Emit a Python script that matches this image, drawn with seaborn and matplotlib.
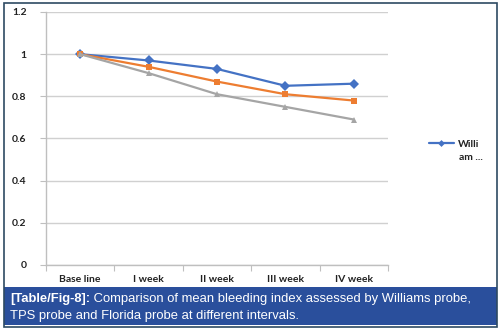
import matplotlib
matplotlib.use("Agg")
import matplotlib.pyplot as plt
from matplotlib.patches import Rectangle
from matplotlib.lines import Line2D
import seaborn as sns
import pandas as pd

categories = ["Base line", "I week", "II week", "III week", "IV week"]
williams = [1.0, 0.97, 0.93, 0.85, 0.86]
tps = [1.0, 0.94, 0.87, 0.81, 0.78]
florida = [1.0, 0.91, 0.81, 0.75, 0.69]
series_names = ["Williams", "TPS", "Florida"]
yticks = [0, 0.2, 0.4, 0.6, 0.8, 1.0, 1.2]
ytick_labels = ["0", "0.2", "0.4", "0.6", "0.8", "1", "1.2"]
caption_bold = "[Table/Fig-8]:"
caption_line1 = " Comparison of mean bleeding index assessed by Williams probe,"
caption_line2 = "TPS probe and Florida probe at different intervals."

df = pd.DataFrame({
    "interval": categories * 3,
    "value": williams + tps + florida,
    "probe": [series_names[0]] * 5 + [series_names[1]] * 5 + [series_names[2]] * 5,
})

sns.set_theme(style="white")
plt.rcParams["font.family"] = ["Lato", "DejaVu Sans"]

fig = plt.figure(figsize=(5.02, 3.30), dpi=100)
ax = fig.add_axes([46 / 502, 1 - 265 / 330, (388 - 46) / 502, (265 - 12) / 330])

palette = {"Williams": "#4472C4", "TPS": "#ED7D31", "Florida": "#A5A5A5"}
markers = {"Williams": "D", "TPS": "s", "Florida": "^"}
sns.lineplot(data=df, x="interval", y="value", hue="probe", style="probe",
             palette=palette, markers=markers, dashes=False, markersize=5,
             markeredgewidth=0, linewidth=1.6, ax=ax, legend=False, sort=False)

ax.set_xlim(-0.5, 4.5)
ax.set_ylim(0, 1.2)
ax.set_yticks(yticks)
ax.set_yticklabels(ytick_labels)
ax.set_xticks(range(5))
ax.set_xticklabels(categories)
ax.set_xticks([i - 0.5 for i in range(6)], minor=True)
ax.tick_params(axis="x", which="major", length=0, pad=7, labelsize=7.5, labelcolor="#222222")
ax.tick_params(axis="x", which="minor", length=4, color="#BFBFBF", width=0.8, direction="out", bottom=True)
ax.tick_params(axis="y", length=4, color="#BFBFBF", width=0.8, left=True, pad=10,
               labelsize=7.5, labelcolor="#222222")
for lab in ax.get_xticklabels() + ax.get_yticklabels():
    lab.set_fontweight("bold")
ax.set_xlabel("")
ax.set_ylabel("")
ax.grid(axis="y", color="#D0D0D0", linewidth=1)
ax.set_axisbelow(True)
for s in ["top", "right"]:
    ax.spines[s].set_visible(False)
for s in ["left", "bottom"]:
    ax.spines[s].set_color("#BFBFBF")
    ax.spines[s].set_linewidth(1)

# legend (only first entry visible, truncated label)
handle = Line2D([], [], color=palette["Williams"], marker="D", markersize=3.5,
                markeredgewidth=0, linewidth=1.6)
leg = fig.legend([handle], ["Willi"], loc="center left",
                 bbox_to_anchor=(429 / 502, 1 - 144 / 330), frameon=False,
                 handlelength=2.4, handletextpad=0.35, fontsize=7.5, borderaxespad=0,
                 borderpad=0)
for t in leg.get_texts():
    t.set_fontweight("bold")
    t.set_color("#222222")
fig.text(459 / 502, 1 - 157 / 330, "am ...", fontsize=7.5, fontweight="bold",
         color="#222222", va="center", ha="left")

# caption box and outer border
fig.patches.append(Rectangle((4 / 502, 1 - 325 / 330), 493 / 502, 38 / 330,
                             transform=fig.transFigure, facecolor="#2A4F9C",
                             edgecolor="none", zorder=0))
fig.patches.append(Rectangle((4 / 502, 1 - 327 / 330), 493 / 502, 324 / 330,
                             transform=fig.transFigure, facecolor="none",
                             edgecolor="#2E4A62", linewidth=1.2, zorder=5))
cap_font = ["Liberation Sans", "DejaVu Sans"]
cap_size = 9.4
tb = fig.text(10 / 502, 1 - 299 / 330, caption_bold, color="white", fontsize=cap_size,
              fontweight="bold", family=cap_font, va="center")
fig.canvas.draw()
bb = tb.get_window_extent()
fig.text((10 + bb.width) / 502, 1 - 299 / 330, caption_line1, color="white",
         fontsize=cap_size, family=cap_font, va="center")
fig.text(10 / 502, 1 - 315.5 / 330, caption_line2, color="white",
         fontsize=cap_size, family=cap_font, va="center")

fig.savefig("out.png", dpi=100)
